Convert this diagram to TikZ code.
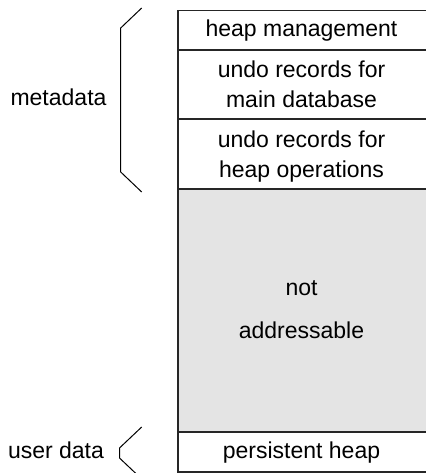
\documentclass[tikz,border=0pt]{standalone}
\usepackage{fontspec}
\setmainfont{Liberation Sans}
\begin{document}
\begin{tikzpicture}[x=1pt,y=-1pt,
  every node/.style={inner sep=0pt,outer sep=0pt},
  label/.style={font=\fontsize{23}{28}\selectfont, anchor=base},
  cell/.style={line width=1.2pt, draw=black!85},
  brace/.style={line width=1pt, line join=miter}]
  \useasboundingbox (0,0) rectangle (425,473);

  % memory layout column (right side runs past the page edge)
  \fill[black!10.5] (178,189) rectangle (427,432);
  \draw[cell] (178,10.5) rectangle (427,472);
  \draw[cell] (178,50) -- (427,50);
  \draw[cell] (178,119) -- (427,119);
  \draw[cell] (178,189) -- (427,189);
  \draw[cell] (178,432) -- (427,432);

  % cell contents
  \node[label] (hm)  at (301.5,37)    {heap management};
  \node[label] (um1) at (301.5,77.5)  {undo records for};
  \node[label] (um2) at (301.5,107.5) {main database};
  \node[label] (uh1) at (301.5,147)   {undo records for};
  \node[label] (uh2) at (301.5,177)   {heap operations};
  \node[label] (na1) at (301.5,295)   {not};
  \node[label] (na2) at (301.5,338)   {addressable};
  \node[label] (ph)  at (301.5,458.5) {persistent heap};

  % region labels with their brackets
  \node[label] (meta) at (58.5,105.5) {metadata};
  \draw[brace] (141.7,8) -- (120.7,28) -- (120.7,172) -- (141.7,192);

  \node[label] (user) at (56,458.5) {user data};
  \draw[brace] (141.7,427) -- (119.5,448) -- (119.5,458) -- (141.7,479);
\end{tikzpicture}
\end{document}
